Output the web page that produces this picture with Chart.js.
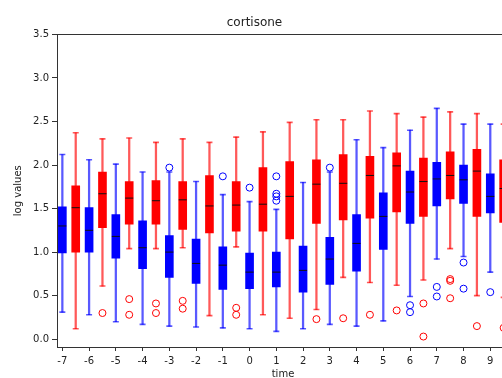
<!DOCTYPE html>
<html>
<head>
<meta charset="utf-8">
<script src="https://cdn.jsdelivr.net/npm/chart.js@4/dist/chart.umd.min.js"></script>
<style>
  html, body { margin: 0; padding: 0; overflow: hidden; background: #fff; }
  canvas { display: block; }
</style>
</head>
<body>
<canvas id="boxChart" width="566" height="390"></canvas>
<script>
// time points: blue boxes on whole numbers, red boxes half a step later
const bluePos = [-7, -6, -5, -4, -3, -2, -1, 0, 1, 2, 3, 4, 5, 6, 7, 8, 9];
const redPos = [-6.5, -5.5, -4.5, -3.5, -2.5, -1.5, -0.5, 0.5, 1.5, 2.5, 3.5, 4.5, 5.5, 6.5, 7.5, 8.5, 9.5];

// blue series (log values)
const blueLow = [0.31, 0.28, 0.20, 0.17, 0.15, 0.14, 0.13, 0.12, 0.09, 0.12, 0.17, 0.15, 0.21, 0.49, 0.92, 0.95, 0.77];
const blueQ1 = [0.99, 1.00, 0.93, 0.81, 0.71, 0.64, 0.57, 0.58, 0.60, 0.54, 0.63, 0.78, 1.03, 1.33, 1.53, 1.56, 1.45];
const blueMed = [1.30, 1.25, 1.18, 1.05, 1.00, 0.87, 0.85, 0.77, 0.77, 0.79, 0.92, 1.10, 1.41, 1.69, 1.84, 1.83, 1.64];
const blueQ3 = [1.52, 1.51, 1.43, 1.36, 1.19, 1.15, 1.06, 0.99, 1.00, 1.07, 1.17, 1.43, 1.68, 1.93, 2.03, 2.00, 1.90];
const blueHigh = [2.12, 2.06, 2.01, 1.92, 1.92, 1.81, 1.66, 1.58, 1.49, 1.80, 1.92, 2.29, 2.20, 2.40, 2.65, 2.47, 2.47];
const blueOutX = [-3, -1, 0, 1, 1, 1, 1, 3, 6, 6, 7, 7, 8, 8, 9];
const blueOutY = [1.97, 1.87, 1.74, 1.87, 1.67, 1.64, 1.59, 1.97, 0.39, 0.31, 0.60, 0.49, 0.88, 0.58, 0.54];

// red series (log values)
const redLow = [0.12, 0.61, 1.04, 1.04, 1.05, 0.27, 1.06, 0.28, 0.24, 0.34, 0.71, 0.65, 0.62, 0.68, 1.04, 0.50, 0.48];
const redQ1 = [1.00, 1.28, 1.32, 1.32, 1.26, 1.22, 1.24, 1.24, 1.15, 1.33, 1.37, 1.39, 1.46, 1.41, 1.61, 1.41, 1.34];
const redMed = [1.51, 1.67, 1.62, 1.59, 1.60, 1.53, 1.54, 1.55, 1.64, 1.78, 1.79, 1.88, 1.99, 1.81, 1.88, 1.93, 1.73];
const redQ3 = [1.76, 1.92, 1.81, 1.82, 1.81, 1.88, 1.81, 1.97, 2.04, 2.06, 2.12, 2.10, 2.14, 2.08, 2.15, 2.18, 2.06];
const redHigh = [2.37, 2.30, 2.31, 2.26, 2.30, 2.26, 2.32, 2.38, 2.49, 2.52, 2.52, 2.62, 2.59, 2.55, 2.61, 2.59, 2.47];
const redOutX = [-5.5, -4.5, -4.5, -3.5, -3.5, -2.5, -2.5, -0.5, -0.5, 2.5, 3.5, 4.5, 5.5, 6.5, 6.5, 7.5, 7.5, 7.5, 8.5, 9.5];
const redOutY = [0.30, 0.46, 0.28, 0.41, 0.30, 0.44, 0.35, 0.36, 0.28, 0.23, 0.24, 0.28, 0.33, 0.41, 0.03, 0.69, 0.67, 0.47, 0.15, 0.13];

const xTicks = [-7, -6, -5, -4, -3, -2, -1, 0, 1, 2, 3, 4, 5, 6, 7, 8, 9];
const yTicks = [0.0, 0.5, 1.0, 1.5, 2.0, 2.5, 3.0, 3.5];

Chart.defaults.font.family = "'DejaVu Sans', sans-serif";
Chart.defaults.color = '#222';

// helpers to turn the arrays into chart points
const span = (pos, lo, hi) => pos.map((p, i) => ({ x: p, y: [lo[i], hi[i]] }));
const pts = (pos, vals) => pos.map((p, i) => ({ x: p, y: vals[i] }));
const caps = (pos, lo, hi) => pts(pos, lo).concat(pts(pos, hi));

function boxSet(pos, low, q1, med, q3, high, outX, outY, color, faded) {
  return [
    { type: 'bar', data: span(pos, q1, q3), backgroundColor: color, barThickness: 8, grouped: false, order: 1 },
    { type: 'bar', data: span(pos, low, high), backgroundColor: faded, barThickness: 1.6, grouped: false, order: 4 },
    { type: 'scatter', data: caps(pos, low, high), pointStyle: 'line', pointRadius: 3,
      borderColor: faded, borderWidth: 1.6, order: 4 },
    { type: 'scatter', data: pts(pos, med), pointStyle: 'line', pointRadius: 4,
      borderColor: '#111', borderWidth: 1, order: 0 },
    { type: 'scatter', data: pts(outX, outY), pointStyle: 'circle', pointRadius: 3.5,
      backgroundColor: 'rgba(0,0,0,0)', borderColor: color, borderWidth: 1, order: 2 }
  ];
}

// plot frame (top and right spines too)
const frame = {
  id: 'frame',
  afterDraw(chart) {
    const { ctx, chartArea: a } = chart;
    ctx.save();
    ctx.strokeStyle = '#333';
    ctx.lineWidth = 1;
    ctx.strokeRect(Math.round(a.left) + 0.5, Math.round(a.top) + 0.5,
      Math.round(a.right - a.left), Math.round(a.bottom - a.top));
    ctx.restore();
  }
};

new Chart(document.getElementById('boxChart'), {
  type: 'bar',
  data: {
    datasets: [
      ...boxSet(bluePos, blueLow, blueQ1, blueMed, blueQ3, blueHigh, blueOutX, blueOutY, '#0000ff', 'rgba(0,0,255,0.65)'),
      ...boxSet(redPos, redLow, redQ1, redMed, redQ3, redHigh, redOutX, redOutY, '#ff0000', 'rgba(255,0,0,0.65)')
    ]
  },
  options: {
    responsive: false,
    devicePixelRatio: 1,
    animation: false,
    events: [],
    layout: { padding: { left: 0, right: 57, top: 0, bottom: 0 } },
    plugins: {
      legend: { display: false },
      tooltip: { enabled: false },
      title: {
        display: true,
        text: 'cortisone',
        font: { size: 12, weight: 'normal' },
        color: '#222',
        padding: { top: 16, bottom: 4 }
      }
    },
    scales: {
      x: {
        type: 'linear',
        offset: false,
        min: -7.2,
        max: 9.7,
        afterBuildTicks: (s) => { s.ticks = xTicks.map(v => ({ value: v })); },
        afterFit: (s) => { s.height = 43; },
        ticks: { font: { size: 10 }, padding: 4, maxRotation: 0, autoSkip: false,
          callback: (v) => String(v) },
        grid: { offset: false, drawOnChartArea: false, drawTicks: true, tickLength: 4, color: '#333' },
        border: { display: false },
        title: { display: true, text: 'time', font: { size: 10 }, padding: { top: 0, bottom: 10 } }
      },
      y: {
        type: 'linear',
        min: -0.09,
        max: 3.5,
        afterBuildTicks: (s) => { s.ticks = yTicks.map(v => ({ value: v })); },
        afterFit: (s) => { s.width = 57; },
        ticks: { font: { size: 10 }, padding: 3, callback: (v) => v.toFixed(1) },
        grid: { drawOnChartArea: false, drawTicks: true, tickLength: 5, color: '#333' },
        border: { display: false },
        title: { display: true, text: 'log values', font: { size: 10 }, padding: { top: 12, bottom: 0 } }
      }
    }
  },
  plugins: [frame]
});
</script>
</body>
</html>
